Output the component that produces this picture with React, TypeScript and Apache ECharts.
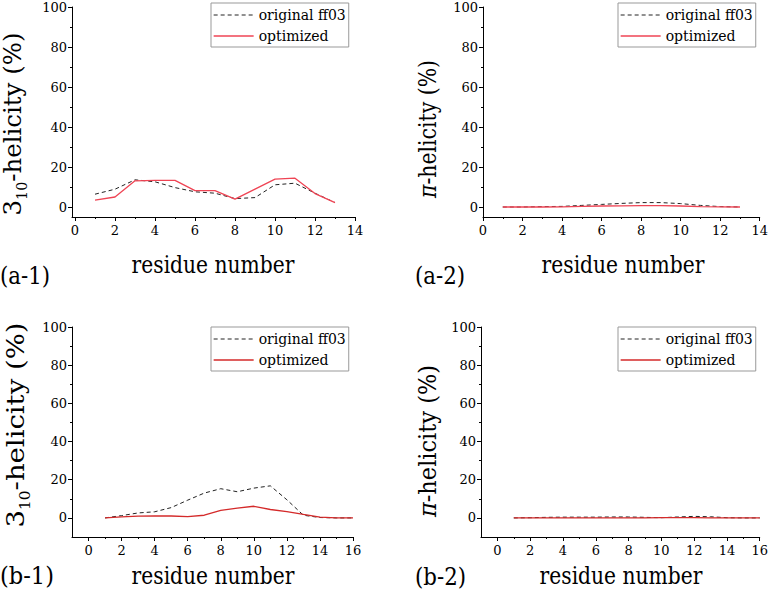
import React, { useEffect, useRef } from "react";
import * as echarts from "echarts";

const residuesA = [1, 2, 3, 4, 5, 6, 7, 8, 9, 10, 11, 12, 13];
const residuesB = [1, 2, 3, 4, 5, 6, 7, 8, 9, 10, 11, 12, 13, 14, 15, 16];

const a1Original = [6.4, 8.9, 13.6, 12.6, 9.7, 7.6, 6.9, 4.2, 4.7, 11.1, 11.9, 6.9, 2.2];
const a1Optimized = [3.4, 5.0, 13.1, 13.3, 13.3, 8.2, 8.2, 3.9, 8.9, 13.9, 14.4, 6.7, 2.2];
const a2Original = [0, 0, 0.2, 0.3, 0.8, 1.3, 1.8, 2.2, 2.2, 1.7, 0.8, 0.2, 0];
const a2Optimized = [0, 0, 0, 0.1, 0.3, 0.5, 0.6, 0.7, 0.7, 0.5, 0.2, 0.1, 0];
const b1Original = [0, 1.2, 2.6, 3.2, 5.4, 9.3, 13.0, 15.3, 13.7, 15.6, 16.8, 9.5, 1.4, 0.2, 0, 0];
const b1Optimized = [0, 0.5, 0.9, 1.0, 1.0, 0.7, 1.4, 4.0, 5.1, 6.1, 4.4, 3.3, 1.8, 0.4, 0, 0];
const b2Original = [0, 0.1, 0.3, 0.4, 0.4, 0.4, 0.5, 0.5, 0.3, 0.1, 0.5, 0.8, 0.6, 0.1, 0, 0];
const b2Optimized = [0, 0, 0, 0, 0, 0, 0, 0, 0, 0.2, 0.2, 0.1, 0, 0, 0, 0];

const xTicksA = [0, 2, 4, 6, 8, 10, 12, 14];
const xMinorA = [1, 3, 5, 7, 9, 11, 13];
const xTicksB = [0, 2, 4, 6, 8, 10, 12, 14, 16];
const xMinorB = [1, 3, 5, 7, 9, 11, 13, 15];
const yTicks = [0, 20, 40, 60, 80, 100];
const yMinor = [10, 30, 50, 70, 90];

const panelLabels = ["(a-1)", "(a-2)", "(b-1)", "(b-2)"];
const xTitle = "residue number";
const legendNames = ["original ff03", "optimized"];

const SERIF = "DejaVu Serif";

type Panel = {
  left: number; top: number; width: number; height: number;
  xMin: number; xMax: number; yMin: number;
  xTicks: number[]; xMinor: number[];
  x: number[]; orig: number[]; opt: number[]; red: string;
  legendLeft: number; legendTop: number;
};

const panels: Panel[] = [
  { left: 72, top: 7, width: 283, height: 210, xMin: -0.15, xMax: 14, yMin: -5, xTicks: xTicksA, xMinor: xMinorA, x: residuesA, orig: a1Original, opt: a1Optimized, red: "#ef4454", legendLeft: 211, legendTop: 3 },
  { left: 483, top: 7, width: 280, height: 210, xMin: 0, xMax: 14, yMin: -5, xTicks: xTicksA, xMinor: xMinorA, x: residuesA, orig: a2Original, opt: a2Optimized, red: "#ef4454", legendLeft: 618, legendTop: 3 },
  { left: 72, top: 327, width: 281, height: 210, xMin: -1, xMax: 16, yMin: -10, xTicks: xTicksB, xMinor: xMinorB, x: residuesB, orig: b1Original, opt: b1Optimized, red: "#d42a2a", legendLeft: 211, legendTop: 327 },
  { left: 481, top: 327, width: 281, height: 210, xMin: -1, xMax: 16, yMin: -10, xTicks: xTicksB, xMinor: xMinorB, x: residuesB, orig: b2Original, opt: b2Optimized, red: "#d42a2a", legendLeft: 618, legendTop: 327 },
];

let ctx: CanvasRenderingContext2D | null = null;
function measure(text: string, size: number, italic = false) {
  if (!ctx) ctx = document.createElement("canvas").getContext("2d");
  if (!ctx) return text.length * size * 0.55;
  ctx.font = (italic ? "italic " : "") + size + "px " + SERIF;
  return ctx.measureText(text).width;
}

function buildOption() {
  const grid: any[] = [];
  const xAxis: any[] = [];
  const yAxis: any[] = [];
  const series: any[] = [];
  const legend: any[] = [];
  const axisLine = { show: true, onZero: false, lineStyle: { color: "#000", width: 1 } };
  panels.forEach((p, i) => {
    grid.push({ left: p.left, top: p.top, width: p.width, height: p.height, containLabel: false });
    xAxis.push({
      type: "value", gridIndex: i, min: p.xMin, max: p.xMax, position: "bottom",
      axisLine, splitLine: { show: false },
      axisTick: { show: true, customValues: p.xTicks, length: 4, lineStyle: { color: "#000" } },
      axisLabel: { show: true, customValues: p.xTicks, fontSize: 13, fontFamily: SERIF, color: "#000", margin: 7 },
    });
    xAxis.push({
      type: "value", gridIndex: i, min: p.xMin, max: p.xMax, position: "bottom",
      axisLine: { show: false, onZero: false }, splitLine: { show: false },
      axisTick: { show: true, customValues: p.xMinor, length: 2, lineStyle: { color: "#000" } },
      axisLabel: { show: false },
    });
    yAxis.push({
      type: "value", gridIndex: i, min: p.yMin, max: 100, position: "left",
      axisLine, splitLine: { show: false },
      axisTick: { show: true, customValues: yTicks, length: 4, lineStyle: { color: "#000" } },
      axisLabel: { show: true, customValues: yTicks, fontSize: 13, fontFamily: SERIF, color: "#000", margin: 5 },
    });
    yAxis.push({
      type: "value", gridIndex: i, min: p.yMin, max: 100, position: "left",
      axisLine: { show: false, onZero: false }, splitLine: { show: false },
      axisTick: { show: true, customValues: yMinor, length: 2, lineStyle: { color: "#000" } },
      axisLabel: { show: false },
    });
    series.push({
      name: legendNames[0], type: "line", xAxisIndex: 2 * i, yAxisIndex: 2 * i,
      symbol: "none", data: p.x.map((v, k) => [v, p.orig[k]]),
      lineStyle: { color: "#222", width: 1, type: [4, 3] }, itemStyle: { color: "#222" },
    });
    series.push({
      name: legendNames[1], type: "line", xAxisIndex: 2 * i, yAxisIndex: 2 * i,
      symbol: "none", data: p.x.map((v, k) => [v, p.opt[k]]),
      lineStyle: { color: p.red, width: 1.3 }, itemStyle: { color: p.red },
    });
    legend.push({
      orient: "vertical", left: p.legendLeft, top: p.legendTop,
      itemWidth: 40, itemHeight: 14, itemGap: 7, padding: [5, 3, 4, 2],
      borderColor: "#999", borderWidth: 1, selectedMode: false,
      textStyle: { fontSize: 14, fontFamily: SERIF, color: "#000" },
      data: [
        { name: legendNames[0], lineStyle: { color: "#222", width: 1, type: [4, 3] }, itemStyle: { opacity: 0 } },
        { name: legendNames[1], lineStyle: { color: p.red, width: 1.3 }, itemStyle: { opacity: 0 } },
      ],
    });
  });

  const XT = 24;
  const xtScale = 163 / measure(xTitle, XT);
  const xTitleEl = (cx: number, cy: number) => ({
    type: "text", x: cx, y: cy, scaleX: xtScale,
    style: { text: xTitle, fontSize: XT, fontFamily: SERIF, fill: "#000", textAlign: "center", textVerticalAlign: "middle" },
  });
  const PL = 25;
  const labelEl = (t: string, lx: number, cy: number, w: number) => ({
    type: "text", x: lx, y: cy, scaleX: w / measure(t, PL),
    style: { text: t, fontSize: PL, fontFamily: SERIF, fill: "#000", textAlign: "left", textVerticalAlign: "middle" },
  });

  const graphic: any[] = [
    xTitleEl(213, 264),
    xTitleEl(623, 264),
    xTitleEl(213, 575),
    xTitleEl(621, 575),
    labelEl(panelLabels[0], 0, 275, 50),
    labelEl(panelLabels[1], 415, 275, 50),
    labelEl(panelLabels[2], 0, 576, 54),
    labelEl(panelLabels[3], 415, 576, 51),
  ];

  const yTitle310 = (x: number, y: number, fs: number, len: number) => {
    const sub = Math.round(fs * 0.58);
    const w = measure("3", fs) + measure("10", sub) + measure("-helicity (%)", fs);
    return {
      type: "text", x, y, rotation: Math.PI / 2, scaleX: len / w,
      style: {
        text: "{n|3}{s|10}{n|-helicity (%)}",
        textAlign: "center", textVerticalAlign: "middle",
        rich: {
          n: { fontSize: fs, fontFamily: SERIF, fill: "#000", lineHeight: fs, verticalAlign: "top" },
          s: { fontSize: sub, fontFamily: SERIF, fill: "#000", lineHeight: sub, verticalAlign: "top", padding: [Math.round(fs * 0.6), 0, 0, 0] },
        },
      },
    };
  };
  const yTitlePi = (x: number, y: number, fs: number, len: number) => {
    const w = measure("π", fs, true) + measure("-helicity (%)", fs);
    return {
      type: "text", x, y, rotation: Math.PI / 2, scaleX: len / w,
      style: {
        text: "{p|π}{n|-helicity (%)}",
        textAlign: "center", textVerticalAlign: "middle",
        rich: {
          n: { fontSize: fs, fontFamily: SERIF, fill: "#000" },
          p: { fontSize: fs, fontFamily: SERIF, fill: "#000", fontStyle: "italic" },
        },
      },
    };
  };
  graphic.push(yTitle310(13, 124, 24, 183));
  graphic.push(yTitlePi(427, 129, 24, 138));
  graphic.push(yTitle310(15, 425, 25, 205));
  graphic.push(yTitlePi(428, 441, 25, 152));

  return {
    animation: false,
    backgroundColor: "#fff",
    grid, xAxis, yAxis, series, legend, graphic,
  };
}

export default function App() {
  const ref = useRef<HTMLDivElement>(null);
  useEffect(() => {
    if (!ref.current) return;
    const chart = echarts.init(ref.current, null, { renderer: "svg" });
    chart.setOption(buildOption() as any);
    return () => chart.dispose();
  }, []);
  return (
    <div
      ref={ref}
      style={{ position: "fixed", left: 0, top: 0, width: 771, height: 609, background: "#fff" }}
    />
  );
}
